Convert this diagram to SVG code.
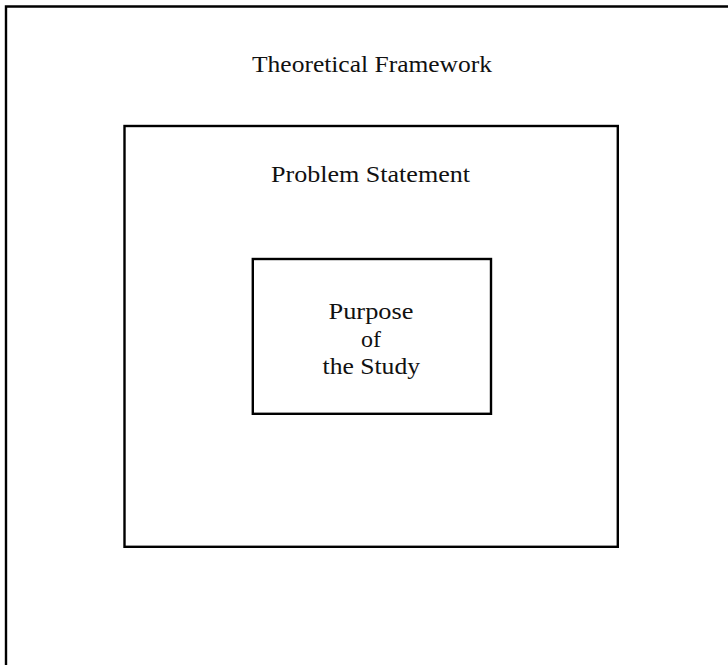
<svg xmlns="http://www.w3.org/2000/svg" width="728" height="665" viewBox="0 0 728 665">
<style>
.box{fill:none;stroke:#000;stroke-width:2.4}
.t{font-family:"Liberation Serif","Times New Roman",serif;font-size:24px;fill:#111;text-anchor:middle}
</style>
<rect width="728" height="665" fill="#fff"/>
<g id="theoretical-framework">
<path class="box" d="M6,670 V6.5 H735"/>
<text class="t" x="372" y="72" textLength="240" lengthAdjust="spacingAndGlyphs">Theoretical Framework</text>
</g>
<g id="problem-statement">
<rect class="box" x="124.5" y="126" width="493.3" height="420.8"/>
<text class="t" x="370.5" y="182" textLength="199" lengthAdjust="spacingAndGlyphs">Problem Statement</text>
</g>
<g id="purpose">
<rect class="box" x="252.8" y="259" width="238.2" height="154.8"/>
<text class="t" x="371" y="318.5" textLength="85" lengthAdjust="spacingAndGlyphs">Purpose</text>
<text class="t" x="371" y="346.5">of</text>
<text class="t" x="371.3" y="373.5" textLength="97.5" lengthAdjust="spacingAndGlyphs">the Study</text>
</g>
<g id="connectors"/>
</svg>
